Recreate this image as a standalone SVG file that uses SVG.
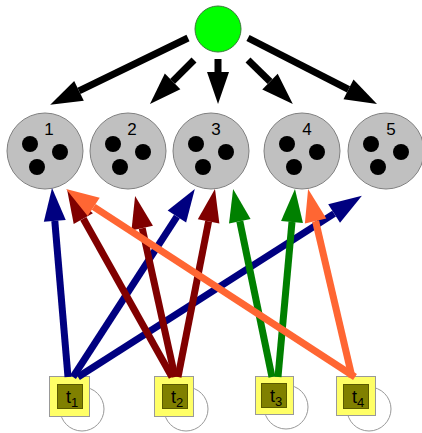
<svg xmlns="http://www.w3.org/2000/svg" width="422" height="433" viewBox="0 0 422 433">
  <style>
    .place { fill: #c0c0c0; stroke: #808080; stroke-width: 1; }
    .token { fill: #000; }
    .num { font-family: "Liberation Sans", Arial, sans-serif; font-size: 17px; fill: #000; text-anchor: middle; }
    .src { fill: #00ff00; stroke: #3a7a3a; stroke-width: 1; }
    .outer { fill: #ffff66; stroke: #999; stroke-width: 1; }
    .inner { fill: #808000; stroke: #5a5a00; stroke-width: 1; }
    .loop { fill: none; stroke: #999; stroke-width: 1; }
    .tl { font-family: "Liberation Sans", Arial, sans-serif; font-size: 18px; fill: #000; text-anchor: middle; }
    .edge { fill: none; stroke-linecap: butt; }
    .k { stroke: #000; stroke-width: 7; }
    .b { stroke: #000080; stroke-width: 7; }
    .r { stroke: #800000; stroke-width: 7; }
    .g { stroke: #008000; stroke-width: 7; }
    .o { stroke: #ff6633; stroke-width: 7; }
  </style>
  <defs>
    <marker id="hk" markerUnits="userSpaceOnUse" markerWidth="34" markerHeight="24" refX="0" refY="12" orient="auto" overflow="visible">
      <path d="M0,1 L32,12 L0,23 z" fill="#000"/>
    </marker>
    <marker id="hb" markerUnits="userSpaceOnUse" markerWidth="34" markerHeight="24" refX="0" refY="12" orient="auto" overflow="visible">
      <path d="M0,1 L33,12 L0,23 z" fill="#000080"/>
    </marker>
    <marker id="hr" markerUnits="userSpaceOnUse" markerWidth="34" markerHeight="24" refX="0" refY="12" orient="auto" overflow="visible">
      <path d="M0,1 L33,12 L0,23 z" fill="#800000"/>
    </marker>
    <marker id="hg" markerUnits="userSpaceOnUse" markerWidth="34" markerHeight="24" refX="0" refY="12" orient="auto" overflow="visible">
      <path d="M0,1 L33,12 L0,23 z" fill="#008000"/>
    </marker>
    <marker id="ho" markerUnits="userSpaceOnUse" markerWidth="34" markerHeight="24" refX="0" refY="12" orient="auto" overflow="visible">
      <path d="M0,1 L33,12 L0,23 z" fill="#ff6633"/>
    </marker>
    <g id="tokens">
      <circle cx="-15" cy="-7" r="8" class="token"/>
      <circle cx="15" cy="1" r="8" class="token"/>
      <circle cx="-8" cy="16" r="8" class="token"/>
    </g>
  </defs>

  <!-- source place -->
  <g id="source">
    <circle cx="218" cy="29" r="23" class="src"/>
  </g>

  <!-- places with three tokens each -->
  <g id="p1">
    <circle cx="45" cy="151" r="38" class="place"/>
    <use href="#tokens" x="45" y="151"/>
    <text x="49" y="135" class="num">1</text>
  </g>
  <g id="p2">
    <circle cx="128" cy="151" r="38" class="place"/>
    <use href="#tokens" x="128" y="151"/>
    <text x="132" y="135" class="num">2</text>
  </g>
  <g id="p3">
    <circle cx="211" cy="151" r="38" class="place"/>
    <use href="#tokens" x="211" y="151"/>
    <text x="216" y="135" class="num">3</text>
  </g>
  <g id="p4">
    <circle cx="302" cy="151" r="38" class="place"/>
    <use href="#tokens" x="302" y="151"/>
    <text x="307" y="135" class="num">4</text>
  </g>
  <g id="p5">
    <circle cx="386" cy="151" r="38" class="place"/>
    <use href="#tokens" x="386" y="151"/>
    <text x="391" y="135" class="num">5</text>
  </g>

  <!-- transitions with self loops -->
  <g id="t1">
    <circle cx="82" cy="409" r="22" class="loop"/>
    <rect x="49.5" y="376.5" width="40" height="40" class="outer"/>
    <rect x="57.5" y="384.5" width="25" height="24" class="inner"/>
    <text x="72" y="403" class="tl">t<tspan dy="4" font-size="13">1</tspan></text>
  </g>
  <g id="t2">
    <circle cx="186" cy="409" r="22" class="loop"/>
    <rect x="154.5" y="376.5" width="39" height="40" class="outer"/>
    <rect x="162.5" y="384.5" width="25" height="24" class="inner"/>
    <text x="177" y="403" class="tl">t<tspan dy="4" font-size="13">2</tspan></text>
  </g>
  <g id="t3">
    <circle cx="286" cy="407" r="22" class="loop"/>
    <rect x="255.5" y="376.5" width="38" height="38" class="outer"/>
    <rect x="261.5" y="383.5" width="25" height="24" class="inner"/>
    <text x="276" y="402" class="tl">t<tspan dy="4" font-size="13">3</tspan></text>
  </g>
  <g id="t4">
    <circle cx="369" cy="409" r="22" class="loop"/>
    <rect x="336.5" y="376.5" width="39" height="39" class="outer"/>
    <rect x="343.5" y="384.5" width="25" height="24" class="inner"/>
    <text x="358" y="403" class="tl">t<tspan dy="4" font-size="13">4</tspan></text>
  </g>

  <!-- arcs -->
  <g id="connectors">
    <line x1="188" y1="38" x2="79" y2="90.9" class="edge k" stroke-width="5" marker-end="url(#hk)"/>
    <line x1="194" y1="60" x2="172.6" y2="81.4" class="edge k" marker-end="url(#hk)"/>
    <line x1="218" y1="59" x2="218" y2="72" class="edge k" marker-end="url(#hk)"/>
    <line x1="248" y1="60" x2="270" y2="81.6" class="edge k" marker-end="url(#hk)"/>
    <line x1="248" y1="38" x2="348.5" y2="89.4" class="edge k" marker-end="url(#hk)"/>

    <line x1="68" y1="377" x2="54.8" y2="220.9" class="edge b" marker-end="url(#hb)"/>
    <line x1="73" y1="377" x2="176.9" y2="216.6" class="edge b" marker-end="url(#hb)"/>
    <line x1="78" y1="377" x2="334.1" y2="213.6" class="edge b" marker-end="url(#hb)"/>

    <line x1="172" y1="377" x2="83.3" y2="218.7" class="edge r" marker-end="url(#hr)"/>
    <line x1="175" y1="377" x2="142.2" y2="228.2" class="edge r" marker-end="url(#hr)"/>
    <line x1="178" y1="377" x2="208.6" y2="221.4" class="edge r" marker-end="url(#hr)"/>

    <line x1="272" y1="377" x2="239.8" y2="221.3" class="edge g" marker-end="url(#hg)"/>
    <line x1="278" y1="377" x2="292" y2="221.9" class="edge g" marker-end="url(#hg)"/>

    <line x1="355" y1="377" x2="93.7" y2="206.9" class="edge o" marker-end="url(#ho)"/>
    <line x1="352" y1="377" x2="315.6" y2="221.1" class="edge o" marker-end="url(#ho)"/>
  </g>
</svg>
